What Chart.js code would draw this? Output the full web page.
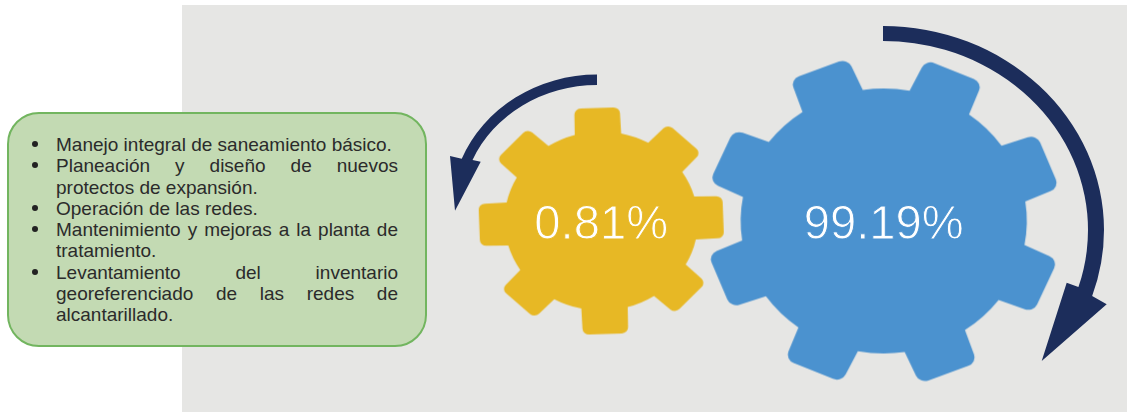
<!DOCTYPE html>
<html lang="es">
<head>
<meta charset="utf-8">
<script src="https://cdn.jsdelivr.net/npm/chart.js@4"></script>
<style>
html,body{margin:0;padding:0;background:#fff;width:1127px;height:412px;overflow:hidden}
#bg{position:absolute;left:182px;top:5px;width:945px;height:407px;background:#E6E6E4}
#wrap{position:absolute;left:0;top:0;width:1127px;height:412px}
#wrap canvas{display:block}
#box{position:absolute;left:7px;top:111.5px;width:416px;height:231px;background:#C3DAB3;border:2px solid #72B55F;border-radius:32px;box-sizing:content-box}
#box ul{position:absolute;left:47px;top:20.5px;width:342px;margin:0;padding:0;list-style:none;font:19px/21.3px "Liberation Sans",Arial,sans-serif;color:#2b2b2b;text-align:justify}
#box li{position:relative}
#box li::before{content:"";position:absolute;left:-24px;top:7px;width:6px;height:6px;border-radius:50%;background:#222}
</style>
</head>
<body>
<div id="bg"></div>
<div id="wrap"><canvas id="c" width="1127" height="412"></canvas></div>
<div id="box"><ul id="list"></ul></div>
<script>
const shareValues = [0.81, 99.19];
const gearColors = ['#E7B825', '#4B92CF'];
const listItems = [
  'Manejo integral de saneamiento básico.',
  'Planeación y diseño de nuevos protectos de expansión.',
  'Operación de las redes.',
  'Mantenimiento y mejoras a la planta de tratamiento.',
  'Levantamiento del inventario georeferenciado de las redes de alcantarillado.'
];
const shareLabels = shareValues.map(v => v + '%');

document.getElementById('list').innerHTML = listItems.map(t => '<li>' + t + '</li>').join('');

function makeGear(color, o) {
  const size = 361, cv = document.createElement('canvas');
  cv.width = cv.height = size;
  const g = cv.getContext('2d');
  g.translate(size / 2, size / 2);
  g.scale(o.sx, 1);
  const step = Math.PI * 2 / o.teeth, rot = o.rot * Math.PI / 180 - Math.PI / 2;
  const phi = Math.asin(o.hw / o.body);
  const loc = (a, u, v) => [u * Math.cos(a) - v * Math.sin(a), u * Math.sin(a) + v * Math.cos(a)];
  g.beginPath();
  for (let k = 0; k < o.teeth; k++) {
    const a = rot + k * step;
    g.arc(0, 0, o.body, a - step + phi, a - phi);
    const c1 = loc(a, o.tip, -o.tipHw), c2 = loc(a, o.tip, o.tipHw), e = loc(a, o.body * Math.cos(phi), o.hw);
    g.arcTo(c1[0], c1[1], c2[0], c2[1], o.corner);
    g.arcTo(c2[0], c2[1], e[0], e[1], o.corner);
    g.lineTo(e[0], e[1]);
  }
  g.closePath();
  g.fillStyle = color;
  g.fill();
  return cv;
}
const gearImages = [
  makeGear(gearColors[0], {sx: 1.08, body: 89.5, tip: 113, hw: 21.5, tipHw: 21, corner: 6, teeth: 8, rot: -2}),
  makeGear(gearColors[1], {sx: 1.08, body: 132.5, tip: 163.5, hw: 30, tipHw: 28.5, corner: 9, teeth: 8, rot: 23.5})
];

function arcArrow(ctx, p) {
  const tOf = (r, pt) => Math.atan2((pt[1] - p.cy) / r[1], (pt[0] - p.cx) / r[0]);
  const t1 = tOf(p.outer, p.outerEnd), t2 = tOf(p.inner, p.innerEnd);
  ctx.beginPath();
  ctx.ellipse(p.cx, p.cy, p.outer[0], p.outer[1], 0, -Math.PI / 2, t1, p.ccw);
  p.head.forEach(h => ctx.lineTo(h[0], h[1]));
  ctx.ellipse(p.cx, p.cy, p.inner[0], p.inner[1], 0, t2, -Math.PI / 2, !p.ccw);
  ctx.closePath();
  ctx.fillStyle = '#1C2D5B';
  ctx.fill();
}

const decorPlugin = {
  id: 'decor',
  afterDatasetsDraw(chart) {
    const ctx = chart.ctx, pts = chart.getDatasetMeta(0).data;
    ctx.save();
    arcArrow(ctx, {cx: 597, cy: 209.5, outer: [146, 135], inner: [135.7, 124.5], ccw: true,
      outerEnd: [461.7, 158.7], innerEnd: [472.7, 160],
      head: [[450, 156], [455, 210.7], [480.7, 161.7]]});
    arcArrow(ctx, {cx: 883, cy: 230, outer: [221, 204], inner: [205, 189], ccw: false,
      outerEnd: [1092.5, 296], innerEnd: [1078, 287],
      head: [[1106.7, 304.3], [1041.7, 361], [1066.7, 282.7]]});
    ctx.textAlign = 'center';
    ctx.textBaseline = 'alphabetic';
    ctx.lineJoin = 'round';
    pts.forEach((pt, i) => {
      ctx.font = '47.2px "Liberation Sans", Arial, sans-serif';
      ctx.fillStyle = '#fff';
      ctx.fillText(shareLabels[i], pt.x, pt.y + 17.5);
      ctx.strokeStyle = gearColors[i];
      ctx.lineWidth = 0.9;
      ctx.strokeText(shareLabels[i], pt.x, pt.y + 17.5);
    });
    ctx.restore();
  }
};

new Chart(document.getElementById('c'), {
  type: 'line',
  data: {
    labels: shareLabels,
    datasets: [{
      label: 'Participación',
      data: shareValues.map((v, i) => ({x: shareLabels[i], y: 0})),
      showLine: false,
      clip: false,
      pointRadius: 1,
      pointStyle: c => gearImages[c.dataIndex]
    }]
  },
  options: {
    responsive: false,
    animation: false,
    layout: {padding: {left: 460, right: 102, top: 35, bottom: 0}},
    plugins: {legend: {display: false}, tooltip: {enabled: false}},
    scales: {
      x: {type: 'category', offset: true, display: false},
      y: {type: 'linear', min: -1, max: 1, display: false}
    }
  },
  plugins: [decorPlugin]
});
</script>
</body>
</html>
